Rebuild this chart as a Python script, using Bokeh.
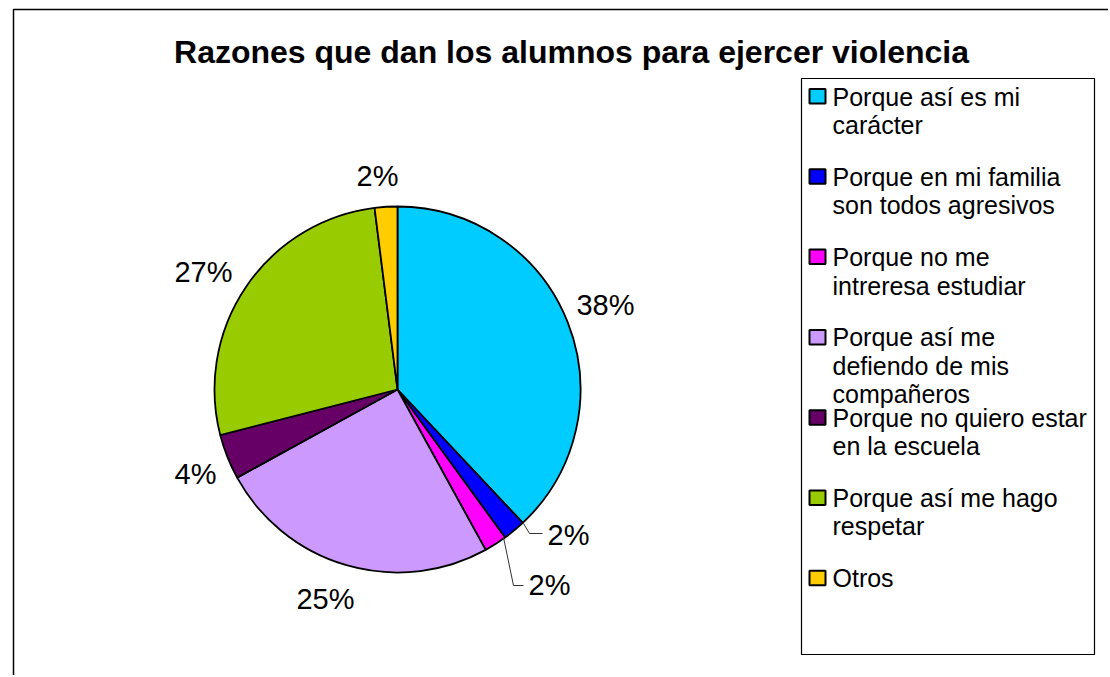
import math
from bokeh.plotting import figure
from bokeh.models import Range1d
from bokeh.core.properties import value
from bokeh.embed import file_html
from bokeh.resources import INLINE

# ---- data ----
title = "Razones que dan los alumnos para ejercer violencia"
categories = [
    "Porque así es mi\ncarácter",
    "Porque en mi familia\nson todos agresivos",
    "Porque no me\nintreresa estudiar",
    "Porque así me\ndefiendo de mis\ncompañeros",
    "Porque no quiero estar\nen la escuela",
    "Porque así me hago\nrespetar",
    "Otros",
]
percentages = [38, 2, 2, 25, 4, 27, 2]
colors = ["#00CCFF", "#0000FF", "#FF00FF", "#CC99FF", "#660066", "#99CC00", "#FFCC00"]

# ---- layout (page pixel coordinates) ----
W, H = 1108, 675
FONT = "Liberation Sans"
TDY = -9  # baseline correction for text rendering
cx, cy, R = 397, 389, 183
label_pos = [(605, 313), (547, 543), (528, 593), (325, 607), (195, 482), (203, 280), (377, 184)]
label_align = ["center", "left", "left", "center", "center", "center", "center"]
leaders = {1: [(523, 523), (529, 533), (542, 533)], 2: [(503, 537), (513, 585), (523, 585)]}


def Y(py):
    return -py


def TY(py):
    return -(py + TDY)


p = figure(width=W, height=H, output_backend="svg", toolbar_location=None,
           x_range=Range1d(0, W), y_range=Range1d(-H, 0),
           x_axis_location=None, y_axis_location=None, min_border=0)
p.outline_line_color = None
p.grid.grid_line_color = None
p.background_fill_color = "white"

# outer frame (left and top edges visible)
p.line(x=[13, 13, 1200], y=[Y(800), Y(9), Y(9)], line_color="black", line_width=1.5)

# title
p.text(x=[571], y=[TY(60)], text=[title], text_font=value(FONT), text_font_style="bold",
       text_font_size="32px", text_align="center", text_baseline="alphabetic", text_color="black")

# pie
total = sum(percentages)
cum = 0.0
starts, ends = [], []
for v in percentages:
    a0 = math.pi / 2 - 2 * math.pi * cum / total
    cum += v
    a1 = math.pi / 2 - 2 * math.pi * cum / total
    starts.append(a0)
    ends.append(a1)
p.wedge(x=cx, y=Y(cy), radius=R, start_angle=starts, end_angle=ends, direction="clock",
        fill_color=colors, line_color="black", line_width=1.8)

# labels
for i, v in enumerate(percentages):
    lx, ly = label_pos[i]
    p.text(x=[lx], y=[TY(ly)], text=[f"{v}%"], text_font=value(FONT), text_font_size="29px",
           text_align=label_align[i], text_baseline="alphabetic", text_color="black")
for i, pts in leaders.items():
    p.line(x=[q[0] for q in pts], y=[Y(q[1]) for q in pts], line_color="#333333", line_width=1)

# legend
lx0, ly0, lx1, ly1 = 801, 78, 1094, 654
p.quad(left=lx0, right=lx1, top=Y(ly0), bottom=Y(ly1), fill_color="white", line_color="black", line_width=1.2)
base0, step, lh = 105, 80.3, 28.4
for i, (cat, col) in enumerate(zip(categories, colors)):
    b = base0 + step * i
    p.quad(left=809, right=825, top=Y(b - 16.5), bottom=Y(b - 2), fill_color=col, line_color="black", line_width=2)
    for j, line in enumerate(cat.split("\n")):
        p.text(x=[832], y=[TY(b + lh * j)], text=[line], text_font=value(FONT), text_font_size="25px",
               text_align="left", text_baseline="alphabetic", text_color="black")

open("out.html", "w").write(file_html(p, INLINE))
